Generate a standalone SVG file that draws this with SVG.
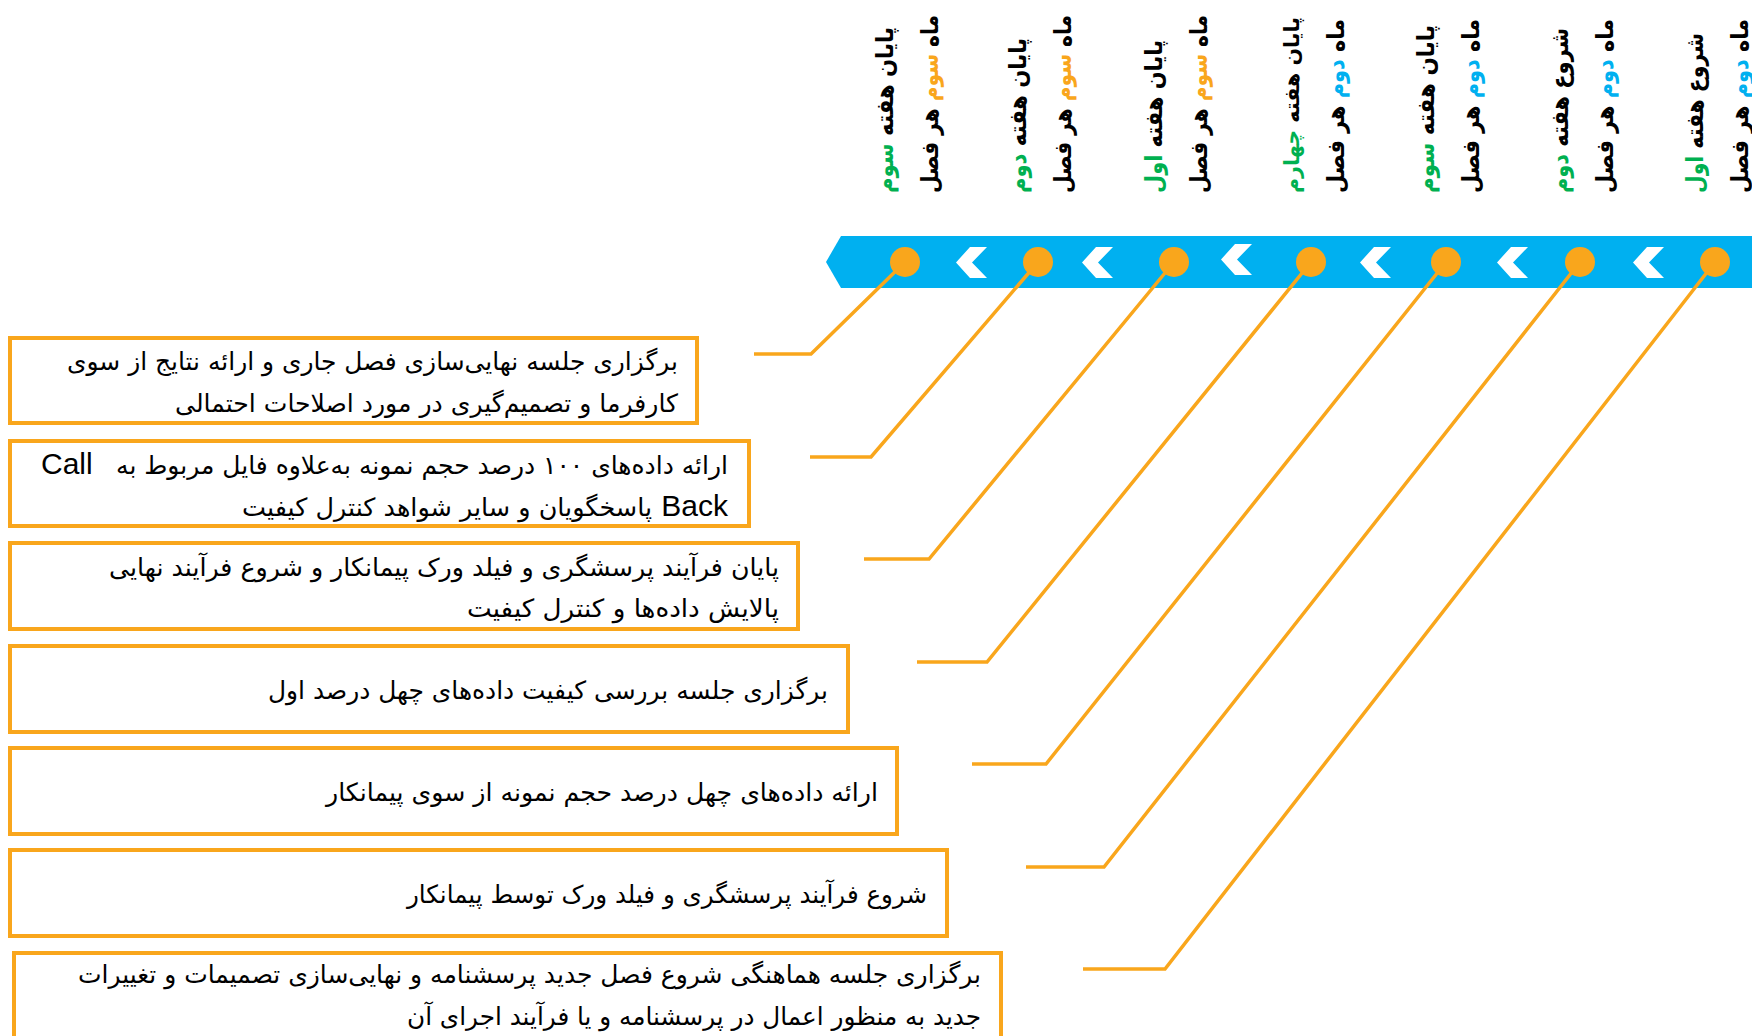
<svg xmlns="http://www.w3.org/2000/svg" width="1752" height="1036" viewBox="0 0 1752 1036">
<style>
.bg{fill:#ffffff}
.bar{fill:#00B0F0}
.chev{fill:#ffffff}
.dot{fill:#F9A61C}
.conn{fill:none;stroke:#F9A61C;stroke-width:3.5;stroke-linejoin:miter}
.box{fill:#ffffff;stroke:#F9A61C;stroke-width:4}
.lbl{font-family:"DejaVu Sans",sans-serif;font-weight:bold;font-size:24px;fill:#000000}
.sm{font-size:21px}
.txt{font-family:"DejaVu Sans",sans-serif;font-size:25px;fill:#000000}
.lat{font-family:"Liberation Sans",Arial,sans-serif;font-size:30px;fill:#000000}
.g{fill:#00B050}
.o{fill:#F9A61C}
.b{fill:#00B0F0}
</style>
<defs>
<polygon id="chev" points="0,0 14,-15.5 31,-15.5 16,0 31,15.5 14,15.5"/>
</defs>
<rect class="bg" x="0" y="0" width="1752" height="1036"/>

<g id="timeline">
<polygon class="bar" points="826,262 841,236 1752,236 1752,288 841,288"/>
<use href="#chev" class="chev" x="956" y="262.5"/>
<use href="#chev" class="chev" x="1082" y="262.5"/>
<use href="#chev" class="chev" x="1221" y="259.5"/>
<use href="#chev" class="chev" x="1360" y="262.5"/>
<use href="#chev" class="chev" x="1497" y="262.5"/>
<use href="#chev" class="chev" x="1633" y="262.5"/>
</g>

<g id="connectors">
<path class="conn" d="M905,262 L811,354 L754,354"/>
<path class="conn" d="M1038,262 L871,457 L810,457"/>
<path class="conn" d="M1174,262 L929,559 L864,559"/>
<path class="conn" d="M1311,262 L987,662 L917,662"/>
<path class="conn" d="M1446,262 L1046,764 L972,764"/>
<path class="conn" d="M1580,262 L1104,867 L1026,867"/>
<path class="conn" d="M1715,262 L1165,969 L1083,969"/>
</g>

<g id="dots">
<circle class="dot" cx="905" cy="262" r="15"/>
<circle class="dot" cx="1038" cy="262" r="15"/>
<circle class="dot" cx="1174" cy="262" r="15"/>
<circle class="dot" cx="1311" cy="262" r="15"/>
<circle class="dot" cx="1446" cy="262" r="15"/>
<circle class="dot" cx="1580" cy="262" r="15"/>
<circle class="dot" cx="1715" cy="262" r="15"/>
</g>

<g id="milestone-1" transform="translate(905,193) rotate(-90)">
<text class="lbl" x="0" y="-12" direction="rtl" text-anchor="end" textLength="166" lengthAdjust="spacingAndGlyphs">پایان هفته <tspan class="g">سوم</tspan></text>
<text class="lbl" x="0" y="33" direction="rtl" text-anchor="end" textLength="178" lengthAdjust="spacingAndGlyphs">ماه <tspan class="o">سوم</tspan> هر فصل</text>
</g>
<g id="milestone-2" transform="translate(1038,193) rotate(-90)">
<text class="lbl" x="0" y="-12" direction="rtl" text-anchor="end" textLength="155" lengthAdjust="spacingAndGlyphs">پایان هفته <tspan class="g">دوم</tspan></text>
<text class="lbl" x="0" y="33" direction="rtl" text-anchor="end" textLength="178" lengthAdjust="spacingAndGlyphs">ماه <tspan class="o">سوم</tspan> هر فصل</text>
</g>
<g id="milestone-3" transform="translate(1174,193) rotate(-90)">
<text class="lbl" x="0" y="-12" direction="rtl" text-anchor="end" textLength="153" lengthAdjust="spacingAndGlyphs">پایان هفته <tspan class="g">اول</tspan></text>
<text class="lbl" x="0" y="33" direction="rtl" text-anchor="end" textLength="178" lengthAdjust="spacingAndGlyphs">ماه <tspan class="o">سوم</tspan> هر فصل</text>
</g>
<g id="milestone-4" transform="translate(1311,193) rotate(-90)">
<text class="lbl sm" x="0" y="-12" direction="rtl" text-anchor="end" textLength="176" lengthAdjust="spacingAndGlyphs">پایان هفته <tspan class="g">چهارم</tspan></text>
<text class="lbl" x="0" y="33" direction="rtl" text-anchor="end" textLength="174" lengthAdjust="spacingAndGlyphs">ماه <tspan class="b">دوم</tspan> هر فصل</text>
</g>
<g id="milestone-5" transform="translate(1446,193) rotate(-90)">
<text class="lbl" x="0" y="-12" direction="rtl" text-anchor="end" textLength="168" lengthAdjust="spacingAndGlyphs">پایان هفته <tspan class="g">سوم</tspan></text>
<text class="lbl" x="0" y="33" direction="rtl" text-anchor="end" textLength="174" lengthAdjust="spacingAndGlyphs">ماه <tspan class="b">دوم</tspan> هر فصل</text>
</g>
<g id="milestone-6" transform="translate(1580,193) rotate(-90)">
<text class="lbl" x="0" y="-12" direction="rtl" text-anchor="end" textLength="165" lengthAdjust="spacingAndGlyphs">شروع هفته <tspan class="g">دوم</tspan></text>
<text class="lbl" x="0" y="33" direction="rtl" text-anchor="end" textLength="174" lengthAdjust="spacingAndGlyphs">ماه <tspan class="b">دوم</tspan> هر فصل</text>
</g>
<g id="milestone-7" transform="translate(1715,193) rotate(-90)">
<text class="lbl" x="0" y="-12" direction="rtl" text-anchor="end" textLength="160" lengthAdjust="spacingAndGlyphs">شروع هفته <tspan class="g">اول</tspan></text>
<text class="lbl" x="0" y="33" direction="rtl" text-anchor="end" textLength="174" lengthAdjust="spacingAndGlyphs">ماه <tspan class="b">دوم</tspan> هر فصل</text>
</g>

<g id="task-1">
<rect class="box" x="10" y="338" width="687" height="85"/>
<text class="txt" x="678" y="370" direction="rtl" text-anchor="start" textLength="611" lengthAdjust="spacingAndGlyphs">برگزاری جلسه نهایی‌سازی فصل جاری و ارائه نتایج از سوی</text>
<text class="txt" x="678" y="412" direction="rtl" text-anchor="start" textLength="503" lengthAdjust="spacingAndGlyphs">کارفرما و تصمیم‌گیری در مورد اصلاحات احتمالی</text>
</g>
<g id="task-2">
<rect class="box" x="10" y="441" width="739" height="85"/>
<text class="txt" x="728" y="474" direction="rtl" text-anchor="start" textLength="612" lengthAdjust="spacingAndGlyphs">ارائه داده‌های ۱۰۰ درصد حجم نمونه به‌علاوه فایل مربوط به</text>
<text class="lat" x="41" y="474">Call</text>
<text class="lat" x="728" y="516" text-anchor="end">Back</text>
<text class="txt" x="652" y="516" direction="rtl" text-anchor="start" textLength="410" lengthAdjust="spacingAndGlyphs">پاسخگویان و سایر شواهد کنترل کیفیت</text>
</g>
<g id="task-3">
<rect class="box" x="10" y="543" width="788" height="86"/>
<text class="txt" x="779" y="576" direction="rtl" text-anchor="start" textLength="670" lengthAdjust="spacingAndGlyphs">پایان فرآیند پرسشگری و فیلد ورک پیمانکار و شروع فرآیند نهایی</text>
<text class="txt" x="779" y="617" direction="rtl" text-anchor="start" textLength="312" lengthAdjust="spacingAndGlyphs">پالایش داده‌ها و کنترل کیفیت</text>
</g>
<g id="task-4">
<rect class="box" x="10" y="646" width="838" height="86"/>
<text class="txt" x="828" y="699" direction="rtl" text-anchor="start" textLength="560" lengthAdjust="spacingAndGlyphs">برگزاری جلسه بررسی کیفیت داده‌های چهل درصد اول</text>
</g>
<g id="task-5">
<rect class="box" x="10" y="748" width="887" height="86"/>
<text class="txt" x="878" y="801" direction="rtl" text-anchor="start" textLength="552" lengthAdjust="spacingAndGlyphs">ارائه داده‌های چهل درصد حجم نمونه از سوی پیمانکار</text>
</g>
<g id="task-6">
<rect class="box" x="10" y="850" width="937" height="86"/>
<text class="txt" x="927" y="903" direction="rtl" text-anchor="start" textLength="520" lengthAdjust="spacingAndGlyphs">شروع فرآیند پرسشگری و فیلد ورک توسط پیمانکار</text>
</g>
<g id="task-7">
<rect class="box" x="14" y="953" width="987" height="92"/>
<text class="txt" x="981" y="983" direction="rtl" text-anchor="start" textLength="903" lengthAdjust="spacingAndGlyphs">برگزاری جلسه هماهنگی شروع فصل جدید پرسشنامه و نهایی‌سازی تصمیمات و تغییرات</text>
<text class="txt" x="981" y="1025" direction="rtl" text-anchor="start" textLength="574" lengthAdjust="spacingAndGlyphs">جدید به منظور اعمال در پرسشنامه و یا فرآیند اجرای آن</text>
</g>
</svg>
